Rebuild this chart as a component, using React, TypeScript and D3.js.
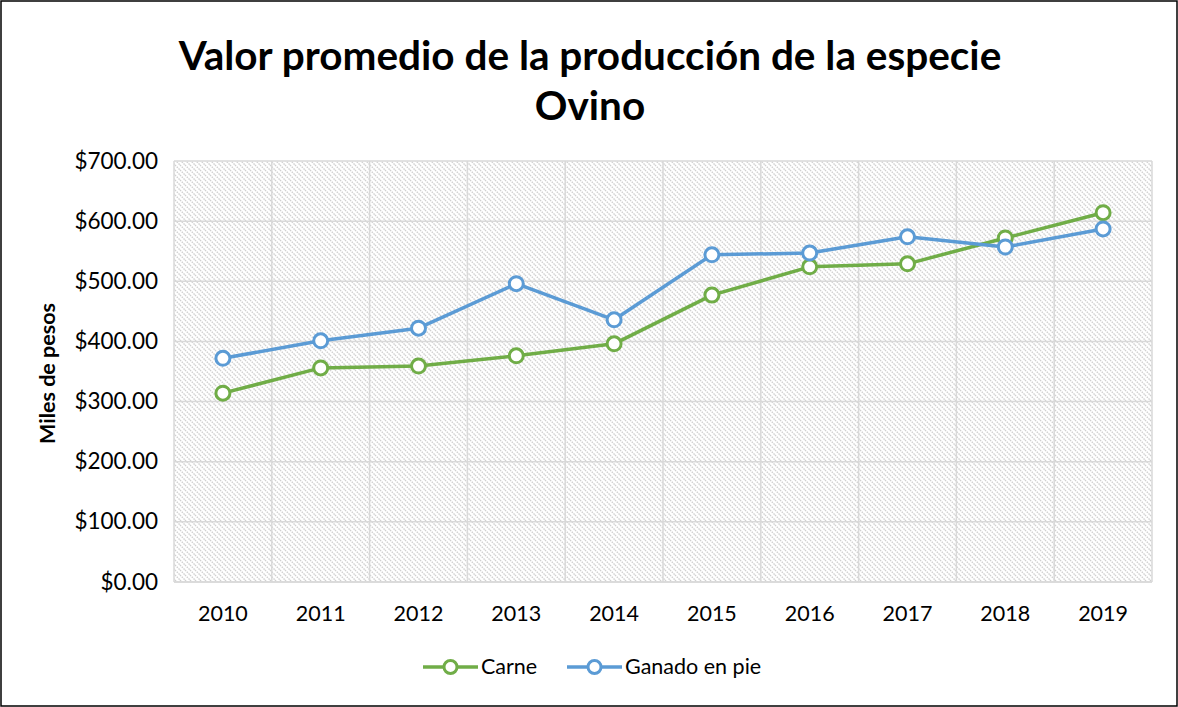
import React from "react";
import * as d3 from "d3";

const years = ["2010", "2011", "2012", "2013", "2014", "2015", "2016", "2017", "2018", "2019"];
const carne = [314, 356, 359, 376, 396, 477, 524, 529, 572, 614];
const ganado = [372, 401, 422, 496, 436, 544, 547, 574, 557, 587];
const yTicks = [0, 100, 200, 300, 400, 500, 600, 700];
const seriesNames = ["Carne", "Ganado en pie"];
const seriesColors = ["#70AD47", "#5B9BD5"];

const W = 1178, H = 707;
const m = { left: 174, right: 1152, top: 161, bottom: 582 };
const FONT = "Lato, 'Open Sans', 'DejaVu Sans', sans-serif";

export default function App() {
  const x = d3.scaleBand().domain(years).range([m.left, m.right]);
  const y = d3.scaleLinear().domain([0, 700]).range([m.bottom, m.top]);
  const line = d3.line<number>().x((_, i) => x(years[i])! + x.bandwidth() / 2).y((d) => y(d));
  const fmt = (v: number) => "$" + d3.format(".2f")(v);
  const series = [carne, ganado];

  return (
    <svg width={W} height={H} style={{ position: "absolute", left: 0, top: 0, background: "#fff" }} fontFamily={FONT}>
      <defs>
        <pattern id="hatch" width="5" height="5" patternUnits="userSpaceOnUse">
          <rect width="5" height="5" fill="#fff" />
          <path d="M0,0 L5,5 M-1,4 L1,6 M4,-1 L6,1" stroke="#d0d0d0" strokeWidth="1.4" strokeDasharray="1.5,1" />
        </pattern>
      </defs>
      <rect x={1} y={1} width={W - 2} height={H - 2} fill="#fff" stroke="#000" strokeWidth={1.5} />
      <text x={590} y={70} textAnchor="middle" fontSize={40.5} fontWeight="bold" fill="#000">Valor promedio de la producción de la especie</text>
      <text x={590} y={120} textAnchor="middle" fontSize={40.5} fontWeight="bold" fill="#000">Ovino</text>

      <rect x={m.left} y={m.top} width={m.right - m.left} height={m.bottom - m.top} fill="url(#hatch)" />
      {yTicks.map((t) => (
        <line key={t} x1={m.left} x2={m.right} y1={y(t)} y2={y(t)} stroke="#d9d9d9" strokeWidth={1.5} />
      ))}
      {years.map((yr) => (
        <line key={yr} x1={x(yr)} x2={x(yr)} y1={m.top} y2={m.bottom} stroke="#d9d9d9" strokeWidth={1.5} />
      ))}
      <line x1={m.right} x2={m.right} y1={m.top} y2={m.bottom} stroke="#d9d9d9" strokeWidth={1.5} />
      <line x1={m.left} x2={m.right} y1={m.bottom} y2={m.bottom} stroke="#d9d9d9" strokeWidth={1.5} />

      {yTicks.map((t) => (
        <text key={t} x={158} y={y(t) + 7.5} textAnchor="end" fontSize={22.5} fill="#000">{fmt(t)}</text>
      ))}
      {years.map((yr) => (
        <text key={yr} x={x(yr)! + x.bandwidth() / 2} y={621} textAnchor="middle" fontSize={21.5} fill="#000">{yr}</text>
      ))}
      <text transform={`translate(55,${(m.top + m.bottom) / 2 + 2}) rotate(-90)`} textAnchor="middle" fontSize={21.5} fontWeight="bold" fill="#000">Miles de pesos</text>

      {series.map((s, si) => (
        <g key={si}>
          <path d={line(s)!} fill="none" stroke={seriesColors[si]} strokeWidth={3.5} strokeLinejoin="round" />
          {s.map((v, i) => (
            <circle key={i} cx={x(years[i])! + x.bandwidth() / 2} cy={y(v)} r={7} fill="#fff" stroke={seriesColors[si]} strokeWidth={3} />
          ))}
        </g>
      ))}

      {seriesNames.map((n, i) => {
        const lx = [423, 567][i];
        return (
          <g key={n}>
            <line x1={lx} x2={lx + 55} y1={667} y2={667} stroke={seriesColors[i]} strokeWidth={3.5} />
            <circle cx={lx + 27.5} cy={667} r={6.5} fill="#fff" stroke={seriesColors[i]} strokeWidth={3} />
            <text x={lx + 58} y={674} fontSize={21.5} fill="#000">{n}</text>
          </g>
        );
      })}
    </svg>
  );
}
